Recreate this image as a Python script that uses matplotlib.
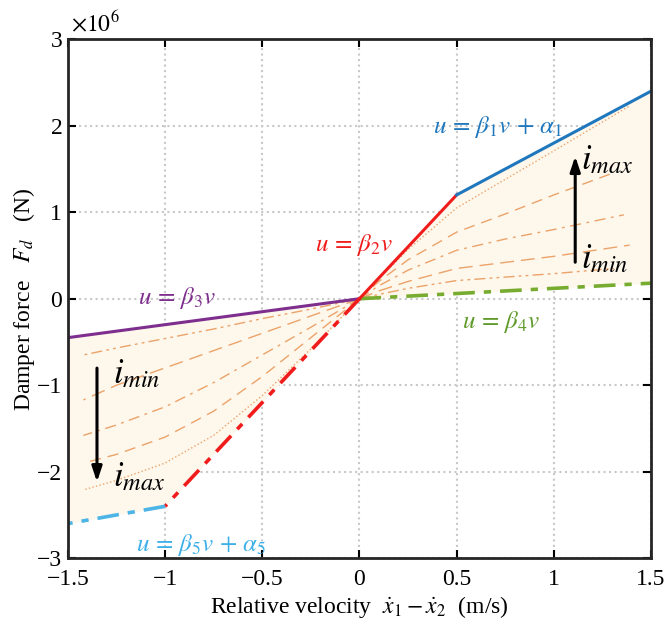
import numpy as np
import matplotlib.pyplot as plt

plt.rcParams['font.family'] = ['Liberation Serif', 'DejaVu Serif']
plt.rcParams['mathtext.fontset'] = 'stix'

# Damper force values are in units of 1e6 N
# boundary lines
v_blue = [0.5, 1.5]
f_blue = [1.2, 2.4]
v_red_pos = [0.0, 0.5]
f_red_pos = [0.0, 1.2]
v_red_neg = [0.0, -1.0]
f_red_neg = [0.0, -2.4]
v_cyan = [-1.0, -1.5]
f_cyan = [-2.4, -2.6]
v_purple = [0.0, -1.5]
f_purple = [0.0, -0.45]
v_green = [0.0, 1.5]
f_green = [0.0, 0.18]

# intermediate current curves, positive side (top -> bottom)
pos_v = [
    [0, 0.1, 0.25, 0.5, 0.75, 1.0, 1.39],
    [0, 0.1, 0.25, 0.5, 0.75, 1.0, 1.30],
    [0, 0.1, 0.25, 0.5, 0.75, 1.0, 1.36],
    [0, 0.1, 0.25, 0.5, 0.75, 1.0, 1.39],
    [0, 0.1, 0.25, 0.5, 0.75, 1.0, 1.31],
]
pos_f = [
    [0, 0.23, 0.57, 1.05, 1.38, 1.71, 2.23],
    [0, 0.20, 0.45, 0.77, 0.98, 1.20, 1.45],
    [0, 0.15, 0.33, 0.56, 0.69, 0.80, 0.97],
    [0, 0.09, 0.20, 0.35, 0.42, 0.49, 0.62],
    [0, 0.05, 0.12, 0.21, 0.25, 0.29, 0.35],
]
pos_style = [':', (0, (8, 5)), (0, (8, 4, 2, 4)), (0, (10, 5)), (0, (8, 3, 2, 3, 2, 3))]

# negative side (top -> bottom)
neg_v = [[0, -0.25, -0.5, -0.75, -1.0, -1.25, -1.42]] * 5
neg_f = [
    [0, -0.12, -0.23, -0.35, -0.46, -0.57, -0.65],
    [0, -0.20, -0.40, -0.60, -0.80, -1.00, -1.17],
    [0, -0.33, -0.65, -0.97, -1.25, -1.46, -1.58],
    [0, -0.45, -0.90, -1.30, -1.60, -1.80, -1.90],
    [0, -0.58, -1.12, -1.58, -1.90, -2.10, -2.21],
]
neg_style = [(0, (8, 3, 2, 3, 2, 3)), (0, (10, 5)), (0, (8, 4, 2, 4)), (0, (8, 5)), ':']

xticks = [-1.5, -1, -0.5, 0, 0.5, 1, 1.5]
yticks = [-3, -2, -1, 0, 1, 2, 3]

fig = plt.figure(figsize=(6.65, 6.23), dpi=100)
ax = fig.add_axes([0.102, 0.104, 0.877, 0.833])

# shaded region
fill_c = '#fef7ec'
vp = np.array([0.0, 0.5, 1.5])
ax.fill_between(vp, np.interp(vp, v_green, f_green),
                np.interp(vp, [0.0, 0.5, 1.5], [0.0, 1.2, 2.4]), color=fill_c, lw=0)
vn = np.array([-1.5, -1.0, 0.0])
ax.fill_between(vn, np.interp(vn, [-1.5, -1.0, 0.0], [-2.6, -2.4, 0.0]),
                np.interp(vn, v_purple[::-1], f_purple[::-1]), color=fill_c, lw=0)

orange = '#eba36a'
for vv, ff, ls in zip(pos_v, pos_f, pos_style):
    ax.plot(vv, ff, color=orange, lw=1.0, ls=ls)
for vv, ff, ls in zip(neg_v, neg_f, neg_style):
    ax.plot(vv, ff, color=orange, lw=1.0, ls=ls)

ax.plot(v_green, f_green, color='#77ac30', lw=2.6, ls=(0, (6, 2.5, 2, 2.5)))
ax.plot(v_purple, f_purple, color='#7e2f8e', lw=2.2)
ax.plot(v_red_pos, f_red_pos, color='#f01c1c', lw=2.2)
ax.plot(v_red_neg, f_red_neg, color='#f01c1c', lw=2.6, ls=(0, (6, 2.5, 2, 2.5)))
ax.plot(v_cyan, f_cyan, color='#4cb5e6', lw=2.6, ls=(0, (6, 2.5, 2, 2.5)))
ax.plot(v_blue, f_blue, color='#1f77bd', lw=2.2)

# arrows
ax.annotate('', xy=(1.11, 1.68), xytext=(1.11, 0.39),
            arrowprops=dict(arrowstyle='-|>,head_length=0.9,head_width=0.3', color='black', lw=2.2))
ax.annotate('', xy=(-1.35, -2.15), xytext=(-1.35, -0.77),
            arrowprops=dict(arrowstyle='-|>,head_length=0.9,head_width=0.3', color='black', lw=2.2))

fs = 18
ax.text(0.38, 1.98, r'$u\,=\,\beta_1 v\,+\,\alpha_1$', color='#1f77bd', fontsize=fs, va='center')
ax.text(-0.23, 0.62, r'$u\,=\,\beta_2 v$', color='#f01c1c', fontsize=fs, va='center')
ax.text(-1.14, 0.01, r'$u\,=\,\beta_3 v$', color='#7e2f8e', fontsize=fs, va='center')
ax.text(0.53, -0.27, r'$u\,=\,\beta_4 v$', color='#5f9a2a', fontsize=fs, va='center')
ax.text(-1.15, -2.85, r'$u\,=\,\beta_5 v\,+\,\alpha_5$', color='#3db0e8', fontsize=fs, va='center')
ax.text(1.14, 1.60, r'$i_{max}$', fontsize=25, va='center')
ax.text(1.14, 0.45, r'$i_{min}$', fontsize=25, va='center')
ax.text(-1.27, -0.88, r'$i_{min}$', fontsize=25, va='center')
ax.text(-1.27, -2.07, r'$i_{max}$', fontsize=25, va='center')

ax.set_xlim(-1.5, 1.5)
ax.set_ylim(-3, 3)
ax.set_xticks(xticks)
ax.set_yticks(yticks)
ax.set_xticklabels(['\u22121.5', '\u22121', '\u22120.5', '0', '0.5', '1', '1.5'])
ax.set_yticklabels(['\u22123', '\u22122', '\u22121', '0', '1', '2', '3'])
ax.tick_params(direction='in', length=6, width=1.5, labelsize=17, top=True, right=True)
ax.tick_params(axis='x', pad=8)
ax.tick_params(axis='y', pad=4)
ax.grid(True, color='#c8c8c8', ls=':', lw=1.5)
ax.set_axisbelow(True)
for s in ax.spines.values():
    s.set_linewidth(2.0)
    s.set_color('#262626')

ax.text(0.005, 1.005, r'$\times 10^6$', transform=ax.transAxes, fontsize=17, va='bottom', ha='left')
ax.set_xlabel(r'Relative velocity  $\dot{x}_1 - \dot{x}_2$  (m/s)', fontsize=17, labelpad=3)
ax.set_ylabel(r'Damper force   $F_d$   (N)', fontsize=17, labelpad=0)

fig.savefig('out.png', dpi=100)
